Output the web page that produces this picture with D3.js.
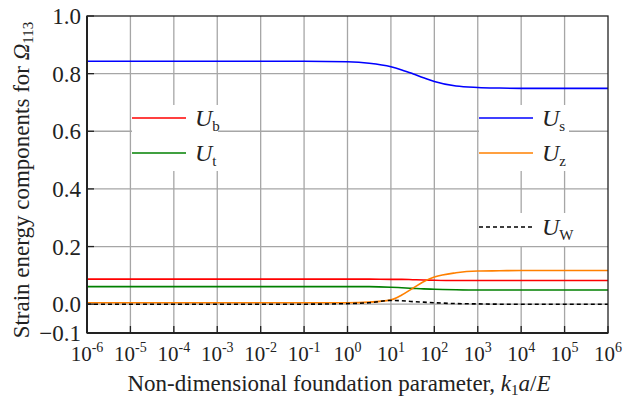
<!DOCTYPE html>
<html>
<head>
<meta charset="utf-8">
<script src="https://cdn.jsdelivr.net/npm/d3@7"></script>
<style>
  body { margin: 0; background: #fff; }
</style>
</head>
<body>
<svg id="chart" width="625" height="403"></svg>
<script>
// exponents of k1a/E where values were read
const logK = [-6, -5, -4, -3, -2, -1, 0, 0.5, 1, 1.25, 1.5, 1.75, 2, 2.5, 3, 3.5, 4, 5, 6];

const Ub = [0.087, 0.087, 0.087, 0.087, 0.087, 0.087, 0.087, 0.087, 0.086, 0.086, 0.085, 0.084, 0.083, 0.082, 0.082, 0.082, 0.082, 0.082, 0.082];
const Ut = [0.061, 0.061, 0.061, 0.061, 0.061, 0.061, 0.061, 0.061, 0.059, 0.057, 0.055, 0.053, 0.052, 0.050, 0.049, 0.049, 0.049, 0.049, 0.049];
const Us = [0.843, 0.843, 0.843, 0.843, 0.843, 0.843, 0.841, 0.836, 0.824, 0.813, 0.800, 0.786, 0.773, 0.757, 0.752, 0.750, 0.749, 0.749, 0.749];
const Uz = [0.005, 0.005, 0.005, 0.005, 0.005, 0.005, 0.005, 0.007, 0.015, 0.032, 0.055, 0.078, 0.094, 0.109, 0.115, 0.116, 0.117, 0.117, 0.117];
const Uw = [0.000, 0.000, 0.000, 0.000, 0.000, 0.000, 0.002, 0.005, 0.013, 0.012, 0.009, 0.007, 0.005, 0.002, 0.001, 0.000, 0.000, 0.000, 0.000];

const xTickExp = [-6, -5, -4, -3, -2, -1, 0, 1, 2, 3, 4, 5, 6];
const yTicks = [-0.1, 0.0, 0.2, 0.4, 0.6, 0.8, 1.0];
const yGrid = [0.0, 0.2, 0.4, 0.6, 0.8];

const series = [
  { name: 'U', sub: 'b', values: Ub, color: '#ff0000', dash: null },
  { name: 'U', sub: 't', values: Ut, color: '#008000', dash: null },
  { name: 'U', sub: 's', values: Us, color: '#0000ff', dash: null },
  { name: 'U', sub: 'z', values: Uz, color: '#ff8000', dash: null },
  { name: 'U', sub: 'W', values: Uw, color: '#000000', dash: '4,3' },
];

const svg = d3.select('#chart')
  .attr('font-family', '"Liberation Serif", "Times New Roman", "DejaVu Serif", serif');
const pLeft = 87, pRight = 608, pTop = 16, pBottom = 333;

const x = d3.scaleLog().domain([1e-6, 1e6]).range([pLeft, pRight]);
const y = d3.scaleLinear().domain([-0.1, 1.0]).range([pBottom, pTop]);

// grid
const grid = svg.append('g');
grid.selectAll('.vg').data(xTickExp.slice(1, -1)).enter()
  .append('line')
  .attr('x1', d => x(Math.pow(10, d))).attr('x2', d => x(Math.pow(10, d)))
  .attr('y1', pTop).attr('y2', pBottom)
  .attr('stroke', '#a6a6a6').attr('stroke-width', 1.3);
grid.selectAll('.hg').data(yGrid).enter()
  .append('line')
  .attr('x1', pLeft).attr('x2', pRight)
  .attr('y1', d => y(d)).attr('y2', d => y(d))
  .attr('stroke', '#a6a6a6').attr('stroke-width', 1.3);

// legend backgrounds (they cover the grid)
const boxes = [[132, 105, 86, 66], [479, 105, 90, 66], [479, 213, 90, 33]];
svg.selectAll('.lbg').data(boxes).enter()
  .append('rect')
  .attr('x', d => d[0]).attr('y', d => d[1])
  .attr('width', d => d[2]).attr('height', d => d[3])
  .attr('fill', '#fff');

// curves
const line = d3.line()
  .x((d, i) => x(Math.pow(10, logK[i])))
  .y(d => y(d))
  .curve(d3.curveMonotoneX);

svg.append('g').selectAll('path').data(series).enter()
  .append('path')
  .attr('d', d => line(d.values))
  .attr('fill', 'none')
  .attr('stroke', d => d.color)
  .attr('stroke-width', 1.6)
  .attr('stroke-dasharray', d => d.dash);

// frame
svg.append('rect')
  .attr('x', pLeft).attr('y', pTop)
  .attr('width', pRight - pLeft).attr('height', pBottom - pTop)
  .attr('fill', 'none').attr('stroke', '#222').attr('stroke-width', 1.3);
svg.append('line')
  .attr('x1', pLeft).attr('x2', pLeft).attr('y1', pTop).attr('y2', pBottom)
  .attr('stroke', '#222').attr('stroke-width', 2);
svg.append('line')
  .attr('x1', pLeft).attr('x2', pRight).attr('y1', pBottom).attr('y2', pBottom)
  .attr('stroke', '#222').attr('stroke-width', 2);

// ticks (inward)
svg.append('g').selectAll('line').data(xTickExp).enter()
  .append('line')
  .attr('x1', d => x(Math.pow(10, d))).attr('x2', d => x(Math.pow(10, d)))
  .attr('y1', pBottom).attr('y2', pBottom - 7)
  .attr('stroke', '#222').attr('stroke-width', 1.3);
svg.append('g').selectAll('line').data(yTicks).enter()
  .append('line')
  .attr('x1', pLeft).attr('x2', pLeft + 7)
  .attr('y1', d => y(d)).attr('y2', d => y(d))
  .attr('stroke', '#222').attr('stroke-width', 1.3);

// y tick labels
svg.append('g').selectAll('text').data(yTicks).enter()
  .append('text')
  .attr('x', pLeft - 6)
  .attr('y', d => y(d) + 8)
  .attr('text-anchor', 'end')
  .attr('fill', '#222')
  .style('font-size', '23px')
  .text(d => d3.format('.1f')(d));

// x tick labels 10^n
const xl = svg.append('g').selectAll('text').data(xTickExp).enter()
  .append('text')
  .attr('x', d => x(Math.pow(10, d)))
  .attr('y', 361)
  .attr('text-anchor', 'middle')
  .attr('fill', '#222')
  .style('font-size', '21px');
xl.append('tspan').text('10');
xl.append('tspan')
  .attr('dy', -9)
  .style('font-size', '14px')
  .text(d => d < 0 ? '-' + (-d) : '' + d);

// axis titles
const xt = svg.append('text')
  .attr('x', 339).attr('y', 391)
  .attr('text-anchor', 'middle')
  .attr('fill', '#222')
  .style('font-size', '23px');
xt.append('tspan').text('Non-dimensional foundation parameter, ');
xt.append('tspan').style('font-style', 'italic').text('k');
xt.append('tspan').attr('dy', 4).style('font-size', '15px').text('1');
xt.append('tspan').attr('dy', -4).style('font-style', 'italic').text('a');
xt.append('tspan').text('/');
xt.append('tspan').style('font-style', 'italic').text('E');

const yt = svg.append('text')
  .attr('transform', 'translate(29,180) rotate(-90)')
  .attr('text-anchor', 'middle')
  .attr('fill', '#222')
  .style('font-size', '23px');
yt.append('tspan').text('Strain energy components for ');
yt.append('tspan').style('font-style', 'italic').text('Ω');
yt.append('tspan').attr('dy', 4).style('font-size', '15px').text('113');

// legends
const legendPos = [
  { x: 132, y: 118 }, { x: 132, y: 153 },
  { x: 479, y: 118 }, { x: 479, y: 153 },
  { x: 479, y: 227 },
];
const lg = svg.append('g').selectAll('g').data(series).enter()
  .append('g')
  .attr('transform', (d, i) => `translate(${legendPos[i].x},${legendPos[i].y})`);
lg.append('line')
  .attr('x1', 0).attr('x2', 54)
  .attr('stroke', d => d.color)
  .attr('stroke-width', 1.6)
  .attr('stroke-dasharray', d => d.dash);
const lt = lg.append('text')
  .attr('x', 63).attr('y', 8)
  .attr('fill', '#222')
  .style('font-size', '24px');
lt.append('tspan').style('font-style', 'italic').text(d => d.name);
lt.append('tspan').attr('dy', 5).style('font-size', '15px').text(d => d.sub);
</script>
</body>
</html>
